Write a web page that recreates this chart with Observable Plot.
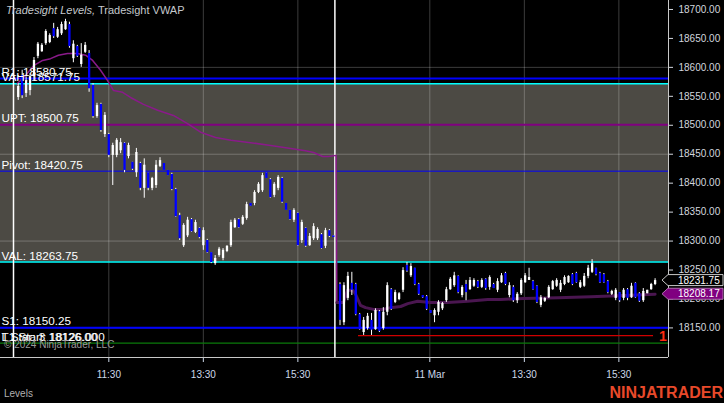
<!DOCTYPE html>
<html><head><meta charset="utf-8">
<script src="https://cdn.jsdelivr.net/npm/d3@7"></script>
<script src="https://cdn.jsdelivr.net/npm/@observablehq/plot@0.6"></script>
<style>
html,body{margin:0;padding:0;background:#000;overflow:hidden;}
#chart svg{display:block;}
</style></head><body><div id="chart"></div>
<script>
// ---------- DATA ----------
// Session 1 (8 Mar) 5-minute bars
const s1Open = [18548,18586,18555,18560,18584,18619,18627,18641,18643,18667,
18652,18658,18665,18674,18615,18636,18605,18626,18624,18569,
18515,18536,18484,18484,18448,18448,18456,18469,18446,18436,
18418,18434,18391,18418,18391,18396,18429,18434,18422,18415,
18389,18344,18292,18309,18337,18315,18322,18292,18301,18280,
18261,18275,18270,18282,18292,18323,18337,18329,18339,18365,
18365,18384,18387,18418,18406,18379,18391,18408,18365,18353,
18336,18348,18301,18322,18292,18304,18304,18311,18291,18318,
18309];
const s1High = [18572,18595,18583,18589,18617,18643,18641,18665,18658,18676,
18669,18678,18683,18678,18646,18638,18641,18643,18629,18572,
18538,18538,18522,18486,18469,18477,18477,18470,18469,18436,
18460,18436,18442,18418,18410,18439,18444,18434,18422,18417,
18391,18348,18330,18341,18339,18336,18323,18323,18303,18280,
18275,18289,18287,18292,18336,18339,18339,18344,18367,18365,
18387,18401,18417,18418,18408,18401,18413,18410,18365,18353,
18356,18349,18336,18323,18313,18330,18323,18313,18322,18320,
18309];
const s1Low = [18543,18546,18548,18551,18577,18615,18626,18638,18641,18650,
18650,18655,18664,18633,18608,18617,18600,18624,18557,18512,
18512,18488,18479,18444,18396,18444,18451,18418,18442,18422,
18410,18387,18374,18387,18387,18391,18427,18422,18413,18387,
18341,18301,18289,18306,18315,18313,18304,18284,18279,18261,
18258,18272,18266,18280,18289,18322,18322,18327,18336,18360,
18361,18382,18384,18408,18374,18375,18387,18365,18353,18336,
18332,18291,18296,18289,18291,18301,18301,18286,18287,18306,
18306];
const s1Close = [18567,18551,18577,18584,18612,18640,18638,18662,18655,18653,
18665,18674,18679,18636,18640,18619,18621,18638,18563,18515,
18534,18491,18517,18448,18465,18474,18470,18422,18465,18424,
18453,18391,18431,18391,18408,18431,18439,18422,18413,18389,
18342,18304,18327,18336,18316,18332,18306,18318,18280,18263,
18270,18286,18284,18291,18332,18336,18323,18341,18363,18360,
18384,18398,18413,18408,18375,18398,18410,18367,18353,18337,
18353,18292,18332,18291,18308,18325,18320,18287,18318,18308,
18306];

// Session 2 (11 Mar) 5-minute bars
const s2Open = [18225,18159,18201,18227,18225,18173,18142,18149,18163,18147,
18178,18149,18177,18216,18194,18199,18215,18258,18240,18253,
18225,18206,18204,18180,18171,18177,18183,18197,18216,18223,
18239,18206,18225,18216,18222,18230,18220,18234,18220,18225,
18215,18228,18244,18206,18220,18197,18209,18228,18232,18230,
18222,18189,18196,18202,18216,18222,18215,18225,18228,18242,
18244,18220,18222,18239,18246,18253,18244,18242,18230,18208,
18201,18211,18201,18216,18202,18227,18209,18197,18209,18216,
18225];
const s2High = [18228,18228,18246,18246,18227,18175,18168,18175,18175,18183,
18180,18185,18228,18218,18215,18211,18254,18263,18261,18253,
18227,18206,18206,18180,18183,18197,18194,18220,18237,18246,
18240,18223,18232,18237,18235,18232,18235,18235,18240,18227,
18235,18244,18246,18228,18223,18211,18235,18244,18253,18232,
18223,18206,18202,18223,18232,18235,18232,18240,18240,18244,
18246,18232,18244,18258,18268,18253,18246,18244,18232,18215,
18218,18211,18218,18218,18227,18228,18211,18218,18215,18227,
18235];
const s2Low = [18154,18154,18197,18206,18171,18146,18137,18146,18137,18146,
18142,18146,18171,18180,18192,18197,18211,18246,18237,18223,
18206,18201,18180,18175,18159,18171,18180,18194,18215,18220,
18209,18202,18197,18215,18220,18218,18218,18215,18215,18218,
18211,18227,18223,18202,18194,18192,18206,18227,18232,18215,
18192,18185,18194,18201,18215,18220,18211,18223,18227,18223,
18227,18218,18220,18235,18244,18240,18227,18227,18209,18206,
18197,18194,18197,18197,18201,18201,18194,18194,18209,18215,
18223];
const s2Close = [18163,18223,18239,18215,18173,18147,18163,18170,18146,18180,
18144,18177,18223,18182,18211,18209,18249,18248,18256,18225,
18208,18202,18182,18175,18180,18194,18192,18216,18234,18240,
18211,18220,18211,18232,18232,18220,18232,18218,18237,18218,
18230,18240,18225,18223,18197,18208,18232,18240,18237,18216,
18194,18202,18201,18220,18230,18232,18227,18237,18239,18225,
18228,18228,18239,18253,18261,18242,18228,18228,18211,18213,
18215,18197,18215,18201,18222,18202,18196,18213,18215,18225,
18231.75];

// bar slots (x units) where each session starts, and session break slots
const s1FirstSlot = 0;
const s2FirstSlot = 81.7;
const sessionBreaks = [-1.2, 80.4];

// Tradesight VWAP
const vwap1Slot = [-0.2,1.85,3.9,6.2,8.2,10.2,12.5,15.0,17.1,18.9,20.9,22.7,24.2,26.5,28.5,31.8,35.4,39.4,43.0,46.3,50.1,54.0,59.0,64.1,69.2,72.9,75.0,77.3,78.8,80.7,80.9];
const vwap1Price = [18572,18586,18603,18612,18615,18621,18624,18624,18621,18612,18595,18577,18560,18557,18548,18536,18526,18517,18503,18488,18479,18474,18470,18465,18460,18456,18453,18446,18446,18448,18194];
const vwap2Slot = [80.9,82.6,83.6,84.9,85.6,86.9,88.2,90.2,92.7,94.5,97.1,98.9,101.4,104.7,109.0,114.1,119.2,122.5,128.3,137.0,145.4,153.7,161.7];
const vwap2Price = [18194,18194,18215,18215,18209,18189,18185,18182,18182,18185,18187,18192,18196,18194,18194,18196,18199,18199,18201,18202,18204,18206,18208.17];

// Tradesight Levels
const levelNames = ["R1","VAH","UPT","Pivot","VAL","S1"];
const levelValues = [18580.75,18571.75,18500.75,18420.75,18263.75,18150.25];
const redLevel = 18136.75;
const redLevelStart = 86.4, redLevelEnd = 161.3;
const redLevelTag = "1:";
const greenLevel = 18123.75;
const greenLabels = ["T1 Start: 18126.000","L Star: 3 18126.00"];

// axes
const yTicks = [18150,18200,18250,18300,18350,18400,18450,18500,18550,18600,18650,18700];
const yGrid = [18150,18300,18450,18600];
const xTickSlots = [23,47,71,104.5,128.5,152.5];
const xTickLabels = ["11:30","13:30","15:30","11 Mar","13:30","15:30"];

// ---------- BUILD ----------
const bars = [];
s1Open.forEach((o,k)=>bars.push({i:s1FirstSlot+k,o,h:s1High[k],l:s1Low[k],c:s1Close[k]}));
s2Open.forEach((o,k)=>bars.push({i:s2FirstSlot+k,o,h:s2High[k],l:s2Low[k],c:s2Close[k]}));
const vwap1 = vwap1Slot.map((i,k)=>({i,p:vwap1Price[k]}));
const vwap2 = vwap2Slot.map((i,k)=>({i,p:vwap2Price[k]}));
const levels = levelNames.map((n,k)=>({name:n,value:levelValues[k]}));
const levelStyle = {
  R1:{stroke:"#0000ff",w:2}, VAH:{stroke:"#00ffff",w:1.5}, UPT:{stroke:"#800080",w:2},
  Pivot:{stroke:"#0000ff",w:1}, VAL:{stroke:"#00ffff",w:1.5}, S1:{stroke:"#0000ff",w:2}
};
const xLabel = new Map(xTickSlots.map((s,k)=>[s,xTickLabels[k]]));
const valueArea = [{lo:levelValues[levelNames.indexOf("VAL")], hi:levelValues[levelNames.indexOf("VAH")]}];

const xDom = [-4.5,165.1];
const yDom = [18098.9,18715.5];
const FONT = "'Liberation Sans', Arial, sans-serif";

const chart = Plot.plot({
  width:724, height:403,
  marginLeft:0, marginRight:56, marginTop:0, marginBottom:46,
  style:{background:"#000", fontFamily:FONT, overflow:"visible"},
  x:{domain:xDom, axis:null},
  y:{domain:yDom, axis:null},
  marks:[
    Plot.rect(valueArea,{x1:xDom[0], x2:xDom[1], y1:"lo", y2:"hi", fill:"#4c4a44"}),
    Plot.gridX(xTickSlots,{stroke:"#ffffff", strokeOpacity:0.235, strokeWidth:1}),
    Plot.gridY(yGrid,{stroke:"#ffffff", strokeOpacity:0.235, strokeWidth:1}),
    Plot.ruleY(levels,{y:"value", stroke:d=>levelStyle[d.name].stroke, strokeWidth:d=>levelStyle[d.name].w}),
    Plot.ruleY([greenLevel],{stroke:"#0a7a0a", strokeWidth:1.2}),
    Plot.ruleY([redLevel],{x1:redLevelStart, x2:redLevelEnd, stroke:"#d00000", strokeWidth:1.2}),
    Plot.text([redLevelTag],{x:redLevelEnd+1.4, y:redLevel, text:d=>d, textAnchor:"start", fill:"#ff2a10", fontSize:14, fontWeight:"bold", dy:1, clip:true}),
    Plot.ruleX(sessionBreaks,{stroke:"#ffffff", strokeWidth:1.5}),
    Plot.line(vwap1,{x:"i", y:"p", stroke:"#8a1a8a", strokeWidth:1.5}),
    Plot.line(vwap2,{x:"i", y:"p", stroke:"#4a1650", strokeWidth:3}),
    Plot.ruleX(bars,{x:"i", y1:"l", y2:"h", stroke:"#ffffff", strokeWidth:1}),
    Plot.ruleX(bars,{x:"i", y1:"o", y2:"c", stroke:d=>d.c>=d.o?"#ffffff":"#0000ff", strokeWidth:2.3}),
    Plot.text(levels,{x:xDom[0], y:"value", text:d=>`${d.name}: ${d.value.toFixed(2)}`, textAnchor:"start", dx:1, dy:-6.2, fill:"#ffffff", fontSize:11.7}),
    Plot.text(greenLabels,{x:xDom[0], y:greenLevel, text:d=>d, textAnchor:"start", dx:1, dy:-6.2, fill:"#ffffff", fontSize:11.7}),
    Plot.axisY(yTicks,{anchor:"right", tickSize:4, tickPadding:6, tickFormat:d=>d.toFixed(2), fontSize:10, color:"#d2d6de", label:null}),
    Plot.axisX(xTickSlots,{anchor:"bottom", tickSize:5, tickPadding:8, tickFormat:d=>xLabel.get(d), fontSize:10, color:"#cdd8ea", label:null}),
    Plot.ruleX([xDom[1]],{stroke:"#c8c8c8", strokeWidth:1}),
    Plot.ruleY([yDom[0]],{stroke:"#c8c8c8", strokeWidth:1})
  ]
});
document.getElementById("chart").appendChild(chart);

// ---------- overlays: titles, price markers, logo ----------
const svg = d3.select(chart);
const ys = chart.scale("y");
const txt = (x,y,size,fill,anchor="start") => svg.append("text").attr("x",x).attr("y",y)
  .attr("font-family",FONT).attr("font-size",size).attr("fill",fill).attr("text-anchor",anchor);
const t = txt(6,14,11,"#c4c8cc");
t.append("tspan").attr("font-style","italic").text("Tradesight Levels,");
t.append("tspan").text(" Tradesight VWAP");
txt(4,348,10,"#9a9a9a").text("© 2024 NinjaTrader, LLC");
txt(4,397,10,"#b0b0b0").text("Levels");
txt(723,398,16,"#e8492a","end").attr("font-weight","bold").text("NINJATRADER");

function marker(v, fill, stroke){
  const yc = ys.apply(v);
  const g = svg.append("g");
  g.append("path")
    .attr("d",`M662,${yc} L668,${yc-5.5} L723,${yc-5.5} L723,${yc+5.5} L668,${yc+5.5} Z`)
    .attr("fill",fill).attr("stroke",stroke).attr("stroke-width",1);
  g.append("text").attr("x",678).attr("y",yc+3.6).attr("text-anchor","start")
    .attr("font-family",FONT).attr("font-size",10)
    .attr("fill","#ffffff").text(v.toFixed(2));
}
marker(s2Close[s2Close.length-1], "#000000", "#c8c8c8");
marker(vwap2Price[vwap2Price.length-1], "#800080", "#b070b0");
</script>
</body></html>
